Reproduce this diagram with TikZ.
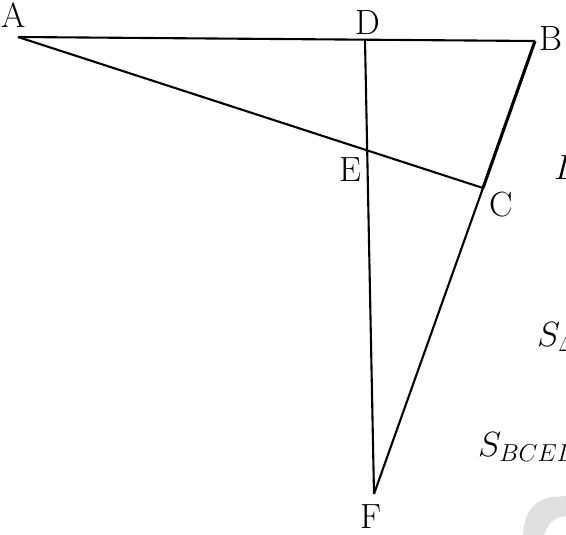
\RequirePackage{fix-cm}
\documentclass[tikz,border=0pt]{standalone}
\begin{document}
\begin{tikzpicture}[x=1pt,y=-1pt,
  seg/.style={line width=2.1pt,line join=miter,line cap=butt},
  thickseg/.style={line width=3.1pt,line join=miter},
  lbl/.style={anchor=base,inner sep=0pt,font=\fontsize{35}{42}\selectfont},
  mtext/.style={anchor=base west,inner sep=0pt,font=\fontsize{35}{42}\selectfont}]
\useasboundingbox (0,0) rectangle (566,535);
\clip (0,0) rectangle (566,535);
% watermark fragment
\fill[gray!25] (523,535) .. controls (524,515) and (532,500) .. (552,497)
  -- (566,496) -- (566,516) .. controls (556,516) and (547,524) .. (544,535) -- cycle;
% vertices
\coordinate (A) at (18,37);
\coordinate (B) at (535,41);
\coordinate (D) at (365,40);
\coordinate (F) at (374,494);
\coordinate (C) at (483,188);
\coordinate (E) at (367,150);
% segments
\draw[seg] (A) -- (B);
\draw[seg] (A) -- (C);
\draw[seg] (D) -- (F);
\draw[seg] (C) -- (F);
\draw[thickseg] (B) -- (C);
% labels
\node[lbl] (lA) at (14,28) {A};
\node[lbl] (lD) at (368,35) {D};
\node[lbl] (lB) at (551,51) {B};
\node[lbl] (lE) at (350,182) {E};
\node[lbl] (lC) at (501,217) {C};
\node[lbl] (lF) at (371,528) {F};
% clipped text on the right
\node[mtext] (t1) at (554,179) {$D$};
\node[mtext] (t2) at (537,346) {$S_{\Delta ADE}$};
\node[mtext] (t3) at (478,456) {$S_{BCED}$};
\end{tikzpicture}
\end{document}
